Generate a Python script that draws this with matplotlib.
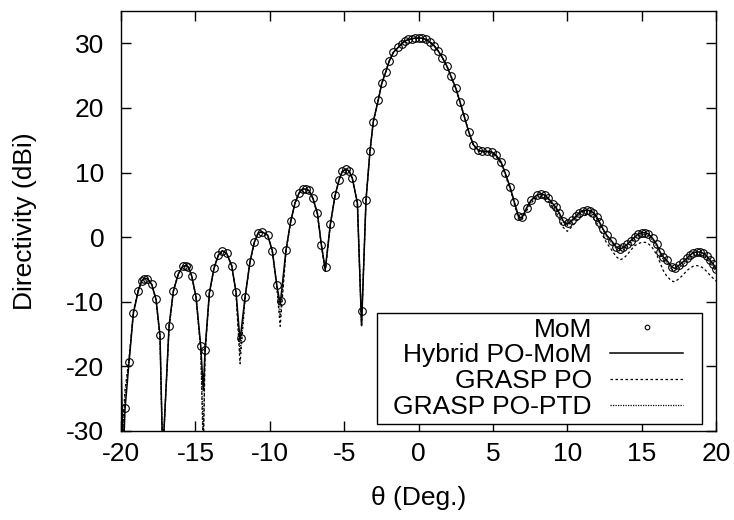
import matplotlib
matplotlib.use("Agg")
import matplotlib.pyplot as plt
from matplotlib.patches import Rectangle

plt.rcParams['font.family'] = ['Liberation Sans', 'DejaVu Sans']
plt.rcParams['axes.unicode_minus'] = False

# MoM reference samples (theta in deg, directivity in dBi)
theta_mom = [
    -19.73, -19.46, -19.17, -18.84, -18.61, -18.43, -18.23, -17.94, -17.65, -17.38,
    -16.77, -16.48, -16.15, -15.85, -15.65, -15.47, -15.25, -14.96, -14.64, -14.35,
    -14.06, -13.75, -13.46, -13.19, -12.9, -12.56, -12.27, -11.95, -11.66, -11.33,
    -11.04, -10.77, -10.5, -10.14, -9.83, -9.53, -9.26, -8.91, -8.59, -8.3,
    -8.03, -7.78, -7.56, -7.36, -7.11, -6.8, -6.53, -6.24, -5.93, -5.61,
    -5.34, -5.12, -4.87, -4.67, -4.45, -4.11, -3.82, -3.53, -3.26, -3.04,
    -2.7, -2.47, -2.2, -1.98, -1.69, -1.36, -1.13, -0.91, -0.69, -0.46,
    -0.24, 0.0, 0.21, 0.48, 0.77, 1.06, 1.33, 1.6, 1.9, 2.18,
    2.5, 2.79, 3.08, 3.39, 3.69, 4.02, 4.29, 4.58, 4.92, 5.21,
    5.55, 5.82, 6.15, 6.44, 6.71, 6.98, 7.27, 7.56, 7.95, 8.24,
    8.5, 8.73, 9.02, 9.24, 9.47, 9.73, 10.07, 10.3, 10.59, 10.81,
    11.04, 11.3, 11.53, 11.75, 11.98, 12.15, 12.42, 12.65, 12.99, 13.28,
    13.55, 13.77, 14.04, 14.27, 14.55, 14.78, 15.0, 15.23, 15.45, 15.74,
    16.01, 16.24, 16.46, 16.68, 17.02, 17.24, 17.53, 17.8, 18.03, 18.25,
    18.47, 18.7, 18.92, 19.15, 19.37, 19.6, 19.82, 20.0]
d_mom = [
    -26.5, -19.3, -11.8, -8.35, -6.8, -6.5, -6.4, -7.3, -9.6, -15.2,
    -13.7, -8.35, -5.7, -4.5, -4.4, -4.6, -6.0, -9.2, -16.9, -17.4,
    -8.6, -4.8, -2.8, -2.1, -2.5, -4.4, -8.5, -15.6, -9.2, -3.8,
    -0.8, 0.7, 0.8, 0.3, -2.1, -7.4, -9.9, -2.0, 2.5, 5.3,
    6.85, 7.5, 7.4, 7.3, 6.1, 3.7, -1.2, -4.6, 2.0, 6.45,
    8.9, 10.2, 10.5, 10.25, 9.1, 5.3, -11.4, 5.8, 13.4, 17.9,
    21.3, 23.8, 25.6, 27.2, 28.6, 29.4, 29.95, 30.36, 30.6, 30.7,
    30.8, 30.8, 30.8, 30.6, 30.2, 29.6, 28.8, 27.8, 26.5, 24.9,
    23.1, 20.9, 18.6, 16.2, 14.3, 13.45, 13.3, 13.3, 13.2, 12.7,
    11.65, 10.0, 7.8, 5.5, 3.3, 3.15, 4.55, 5.7, 6.5, 6.75,
    6.5, 6.0, 5.2, 4.6, 3.7, 2.5, 2.2, 2.6, 3.25, 3.8,
    4.1, 4.2, 4.1, 3.8, 3.15, 2.4, 1.2, 0.3, -0.6, -1.5,
    -1.85, -1.6, -1.1, -0.55, 0.05, 0.5, 0.7, 0.7, 0.5, -0.2,
    -1.1, -2.3, -3.1, -3.55, -4.6, -4.85, -4.3, -3.8, -3.3, -2.8,
    -2.4, -2.3, -2.3, -2.5, -2.9, -3.55, -4.2, -4.9]

# angle grid for the three computed curves
theta_line = [
    -20.0, -19.93, -19.85, -19.73, -19.46, -19.17, -18.84, -18.61, -18.43, -18.23,
    -17.94, -17.65, -17.38, -17.2, -16.77, -16.48, -16.15, -15.85, -15.65, -15.47,
    -15.25, -14.96, -14.64, -14.47, -14.35, -14.06, -13.75, -13.46, -13.19, -12.9,
    -12.56, -12.27, -12.0, -11.66, -11.33, -11.04, -10.77, -10.5, -10.14, -9.83,
    -9.53, -9.3, -8.91, -8.59, -8.3, -8.03, -7.78, -7.56, -7.36, -7.11,
    -6.8, -6.53, -6.27, -5.93, -5.61, -5.34, -5.12, -4.87, -4.67, -4.45,
    -4.11, -3.83, -3.53, -3.26, -3.04, -2.7, -2.47, -2.2, -1.98, -1.69,
    -1.36, -1.13, -0.91, -0.69, -0.46, -0.24, 0.0, 0.21, 0.45, 0.77,
    1.06, 1.33, 1.6, 1.9, 2.18, 2.5, 2.79, 3.08, 3.39, 3.69,
    4.02, 4.29, 4.58, 4.92, 5.21, 5.55, 5.82, 6.15, 6.44, 6.71,
    6.85, 6.98, 7.27, 7.56, 7.95, 8.24, 8.5, 8.73, 9.02, 9.24,
    9.47, 9.73, 10.0, 10.3, 10.59, 10.81, 11.04, 11.3, 11.53, 11.75,
    11.98, 12.15, 12.42, 12.65, 12.99, 13.28, 13.55, 13.77, 14.04, 14.27,
    14.55, 14.78, 15.0, 15.23, 15.45, 15.74, 16.01, 16.24, 16.46, 16.68,
    17.02, 17.24, 17.53, 17.8, 18.03, 18.25, 18.47, 18.7, 18.92, 19.15,
    19.37, 19.6, 19.82, 20.0]
d_hybrid = [
    -19.0, -27.0, -34.0, -26.5, -19.3, -11.8, -8.3, -6.8, -6.4, -6.4,
    -7.3, -9.6, -15.2, -34.0, -13.7, -8.3, -5.7, -4.5, -4.4, -4.6,
    -6.0, -9.2, -16.9, -23.7, -17.4, -8.6, -4.8, -2.8, -2.1, -2.5,
    -4.4, -8.5, -16.0, -9.2, -3.8, -0.8, 0.7, 0.8, 0.3, -2.1,
    -7.4, -10.4, -2.0, 2.5, 5.3, 6.85, 7.5, 7.4, 7.2, 6.1,
    3.7, -1.2, -5.0, 2.0, 6.45, 8.9, 10.2, 10.5, 10.25, 9.1,
    5.3, -13.7, 5.8, 13.4, 17.9, 21.3, 23.8, 25.6, 27.2, 28.6,
    29.4, 29.95, 30.36, 30.6, 30.7, 30.8, 30.8, 30.8, 30.65, 30.2,
    29.6, 28.8, 27.8, 26.5, 24.9, 23.1, 20.9, 18.6, 16.2, 14.3,
    13.45, 13.3, 13.3, 13.2, 12.7, 11.65, 10.0, 7.8, 5.5, 3.3,
    3.0, 3.15, 4.55, 5.7, 6.5, 6.75, 6.5, 6.0, 5.2, 4.6,
    3.7, 2.5, 2.0, 2.6, 3.25, 3.8, 4.1, 4.2, 4.1, 3.8,
    3.15, 2.4, 1.2, 0.3, -0.6, -1.5, -1.85, -1.6, -1.1, -0.55,
    0.05, 0.5, 0.7, 0.7, 0.5, -0.2, -1.1, -2.3, -3.1, -3.55,
    -4.6, -4.85, -4.3, -3.8, -3.3, -2.8, -2.4, -2.3, -2.3, -2.5,
    -2.9, -3.55, -4.2, -4.9]
d_po = [
    -15.5, -34.0, -28.0, -23.5, -18.8, -11.5, -8.2, -6.7, -6.4, -6.4,
    -7.3, -9.7, -15.6, -34.0, -14.0, -8.4, -5.7, -4.5, -4.4, -4.6,
    -6.0, -9.3, -17.5, -34.0, -18.0, -8.7, -4.8, -2.8, -2.1, -2.5,
    -4.4, -8.7, -19.6, -9.5, -3.8, -0.8, 0.7, 0.8, 0.3, -2.2,
    -7.7, -13.8, -2.2, 2.4, 5.3, 6.8, 7.5, 7.4, 7.2, 6.0,
    3.6, -1.3, -5.3, 1.9, 6.4, 8.9, 10.2, 10.5, 10.2, 9.0,
    5.2, -13.6, 5.8, 13.4, 17.9, 21.3, 23.8, 25.6, 27.2, 28.6,
    29.4, 29.95, 30.36, 30.6, 30.7, 30.8, 30.8, 30.8, 30.65, 30.2,
    29.6, 28.8, 27.8, 26.5, 24.9, 23.1, 20.9, 18.6, 16.2, 14.2,
    13.3, 13.2, 13.1, 13.0, 12.5, 11.4, 9.7, 7.5, 5.1, 2.9,
    2.6, 2.8, 4.1, 5.3, 6.1, 6.3, 6.1, 5.5, 4.6, 3.9,
    2.8, 1.5, 0.9, 1.6, 2.4, 3.0, 3.3, 3.4, 3.3, 2.9,
    2.2, 1.4, 0.1, -0.9, -2.0, -3.0, -3.5, -3.3, -2.7, -2.0,
    -1.3, -1.0, -0.8, -0.8, -1.0, -1.7, -2.7, -4.0, -5.2, -6.0,
    -6.8, -6.9, -6.4, -5.8, -5.2, -4.8, -4.5, -4.4, -4.5, -4.8,
    -5.3, -5.9, -6.4, -6.8]
d_ptd = [
    -16.0, -33.0, -29.0, -24.5, -19.0, -11.6, -8.2, -6.7, -6.4, -6.4,
    -7.3, -9.6, -15.4, -34.0, -13.9, -8.3, -5.7, -4.5, -4.4, -4.6,
    -6.0, -9.2, -17.2, -31.0, -17.7, -8.6, -4.8, -2.8, -2.1, -2.5,
    -4.4, -8.6, -18.0, -9.3, -3.8, -0.8, 0.7, 0.8, 0.3, -2.1,
    -7.5, -12.5, -2.1, 2.5, 5.3, 6.85, 7.5, 7.4, 7.2, 6.1,
    3.7, -1.2, -5.1, 2.0, 6.45, 8.9, 10.2, 10.5, 10.25, 9.1,
    5.3, -13.7, 5.8, 13.4, 17.9, 21.3, 23.8, 25.6, 27.2, 28.6,
    29.4, 29.95, 30.36, 30.6, 30.7, 30.8, 30.8, 30.8, 30.65, 30.2,
    29.6, 28.8, 27.8, 26.5, 24.9, 23.1, 20.9, 18.6, 16.2, 14.3,
    13.4, 13.25, 13.2, 13.1, 12.6, 11.5, 9.9, 7.7, 5.4, 3.2,
    2.9, 3.05, 4.4, 5.55, 6.35, 6.6, 6.35, 5.85, 5.0, 4.4,
    3.5, 2.3, 1.8, 2.4, 3.05, 3.6, 3.9, 4.0, 3.9, 3.6,
    2.95, 2.2, 1.0, 0.05, -0.9, -1.8, -2.2, -1.9, -1.4, -0.85,
    -0.25, 0.2, 0.4, 0.4, 0.2, -0.5, -1.4, -2.6, -3.45, -3.9,
    -5.0, -5.2, -4.7, -4.2, -3.7, -3.2, -2.8, -2.7, -2.7, -2.9,
    -3.3, -3.9, -4.6, -5.3]

fs = 19

fig = plt.figure(figsize=(7.34, 5.20), dpi=100)
ax = fig.add_axes([0.1649, 0.1712, 0.8106, 0.8076])

ax.plot(theta_mom, d_mom, linestyle='none', marker='o', markersize=5.5,
        markerfacecolor='none', markeredgecolor='black', markeredgewidth=0.8,
        label='MoM', zorder=4)
ax.plot(theta_line, d_hybrid, color='black', lw=1.1, label='Hybrid PO-MoM', zorder=3)
ax.plot(theta_line, d_po, color='black', lw=0.9, linestyle=(0, (2, 2)),
        label='GRASP PO', zorder=2)
ax.plot(theta_line, d_ptd, color='black', lw=0.9, linestyle=(0, (1, 1)),
        label='GRASP PO-PTD', zorder=2)

ax.set_xlim(-20, 20)
ax.set_ylim(-30, 35)
ax.set_xticks(range(-20, 21, 5))
ax.set_yticks(range(-30, 31, 10))
ax.tick_params(direction='in', length=7, width=1, top=True, right=True,
               labelsize=fs)
ax.tick_params(axis='y', pad=12)
ax.tick_params(axis='x', pad=8)
for s in ax.spines.values():
    s.set_linewidth(1)

ax.set_xlabel('θ (Deg.)', fontsize=fs, labelpad=14)
ax.set_ylabel('Directivity (dBi)', fontsize=fs, labelpad=21)

# gnuplot-style key: labels right-aligned, samples on the right, boxed
ax.add_patch(Rectangle((0.4303, 0.0167), 0.5462, 0.2643, transform=ax.transAxes,
                       facecolor='white', edgecolor='black', lw=1, zorder=5))
leg = ax.legend(loc='center right', bbox_to_anchor=(0.9445, 0.149), markerfirst=False,
                fontsize=fs, frameon=False, handlelength=2.75, handletextpad=0.7,
                labelspacing=0.07, borderpad=0, borderaxespad=0, markerscale=0.6)
leg.set_zorder(6)

fig.savefig('out.png', dpi=100)
